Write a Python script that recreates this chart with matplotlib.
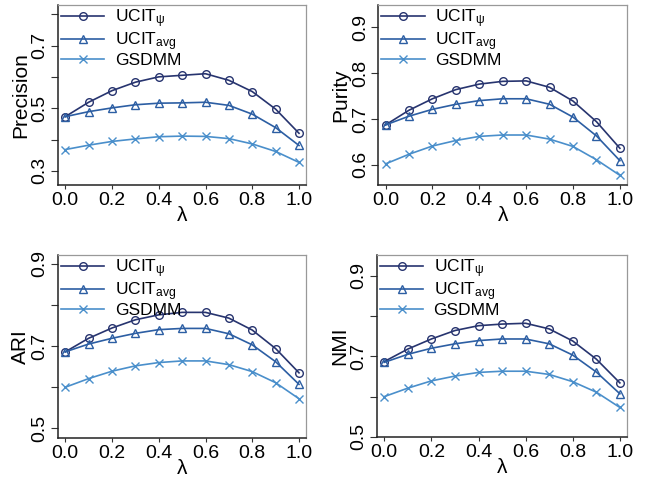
import matplotlib
matplotlib.use('Agg')
import matplotlib.pyplot as plt

plt.rcParams['font.family'] = ['Liberation Sans', 'DejaVu Sans']
plt.rcParams['mathtext.fontset'] = 'custom'
plt.rcParams['mathtext.rm'] = 'Liberation Sans'
plt.rcParams['mathtext.it'] = 'Liberation Sans'
plt.rcParams['mathtext.bf'] = 'Liberation Sans'

lam = [0.0, 0.1, 0.2, 0.3, 0.4, 0.5, 0.6, 0.7, 0.8, 0.9, 1.0]
series_names = ['UCIT$_{\\psi}$', 'UCIT$_{avg}$', 'GSDMM']

prec_psi = [0.473, 0.519, 0.556, 0.583, 0.600, 0.605, 0.610, 0.589, 0.553, 0.497, 0.420]
prec_avg = [0.473, 0.489, 0.501, 0.511, 0.516, 0.517, 0.519, 0.509, 0.481, 0.438, 0.381]
prec_gs = [0.368, 0.382, 0.394, 0.402, 0.409, 0.411, 0.410, 0.403, 0.386, 0.362, 0.327]

pur_psi = [0.687, 0.719, 0.744, 0.764, 0.776, 0.782, 0.783, 0.769, 0.739, 0.694, 0.636]
pur_avg = [0.687, 0.706, 0.721, 0.732, 0.740, 0.744, 0.744, 0.732, 0.704, 0.663, 0.609]
pur_gs = [0.602, 0.623, 0.641, 0.653, 0.662, 0.665, 0.665, 0.656, 0.640, 0.611, 0.577]

ari_psi = [0.686, 0.719, 0.744, 0.764, 0.776, 0.782, 0.782, 0.768, 0.739, 0.694, 0.635]
ari_avg = [0.686, 0.705, 0.719, 0.731, 0.740, 0.743, 0.743, 0.730, 0.703, 0.662, 0.607]
ari_gs = [0.600, 0.621, 0.639, 0.652, 0.660, 0.664, 0.664, 0.655, 0.638, 0.611, 0.572]

nmi_psi = [0.687, 0.718, 0.743, 0.764, 0.776, 0.780, 0.782, 0.768, 0.738, 0.693, 0.634]
nmi_avg = [0.685, 0.705, 0.720, 0.731, 0.739, 0.743, 0.743, 0.731, 0.703, 0.661, 0.607]
nmi_gs = [0.600, 0.621, 0.639, 0.651, 0.660, 0.663, 0.663, 0.655, 0.637, 0.611, 0.573]

x_ticks = [0.0, 0.2, 0.4, 0.6, 0.8, 1.0]
prec_ticks = [0.3, 0.4, 0.5, 0.6, 0.7, 0.8]
prec_labels = ['0.3', '', '0.5', '', '0.7', '']
pur_ticks = [0.6, 0.7, 0.8, 0.9]
pur_labels = ['0.6', '0.7', '0.8', '0.9']
ari_ticks = [0.5, 0.6, 0.7, 0.8, 0.9]
ari_labels = ['0.5', '', '0.7', '', '0.9']
nmi_ticks = [0.5, 0.6, 0.7, 0.8, 0.9]
nmi_labels = ['0.5', '', '0.7', '', '0.9']

colors = ['#27346f', '#2c5ea3', '#4a8fcb']
markers = ['o', '^', 'x']

panels = [
    ('Precision', [prec_psi, prec_avg, prec_gs], prec_ticks, prec_labels, (0.255, 0.83)),
    ('Purity', [pur_psi, pur_avg, pur_gs], pur_ticks, pur_labels, (0.556, 0.949)),
    ('ARI', [ari_psi, ari_avg, ari_gs], ari_ticks, ari_labels, (0.477, 0.922)),
    ('NMI', [nmi_psi, nmi_avg, nmi_gs], nmi_ticks, nmi_labels, (0.5, 0.952)),
]
boxes = [
    [0.090, 0.613, 0.383, 0.377],
    [0.585, 0.613, 0.384, 0.377],
    [0.090, 0.084, 0.383, 0.383],
    [0.583, 0.086, 0.386, 0.381],
]

fig = plt.figure(figsize=(6.47, 4.78), dpi=100)

for (name, ys, yt, yl, lim), box in zip(panels, boxes):
    ax = fig.add_axes(box)
    for y, lab, c, m in zip(ys, series_names, colors, markers):
        ax.plot(lam, y, color=c, marker=m, markersize=5.5, linewidth=1.2,
                markerfacecolor='none', markeredgecolor=c, markeredgewidth=1.0,
                label=lab)
    ax.set_xlim(-0.03, 1.03)
    ax.set_ylim(*lim)
    ax.set_xticks(x_ticks)
    ax.set_xticklabels(['%.1f' % v for v in x_ticks], fontsize=14)
    ax.set_yticks(yt)
    ax.set_yticklabels(yl, fontsize=14, rotation=90, va='center')
    ax.tick_params(axis='y', length=5, width=0.8, pad=2, color='#333333')
    ax.tick_params(axis='x', length=3, width=0.8, pad=2, color='#333333')
    ax.set_ylabel(name, fontsize=15, labelpad=1)
    ax.set_xlabel('λ', fontsize=15, labelpad=-2)
    for s in ['top', 'right']:
        ax.spines[s].set_color('#999999')
        ax.spines[s].set_linewidth(0.9)
    for s in ['left', 'bottom']:
        ax.spines[s].set_color('#222222')
        ax.spines[s].set_linewidth(1.1)
    ax.legend(loc='upper left', frameon=False, fontsize=12.5, handlelength=2.5,
              handletextpad=0.6, labelspacing=0.0, borderaxespad=0.0,
              borderpad=0.15)

plt.savefig('out.png', dpi=100)
